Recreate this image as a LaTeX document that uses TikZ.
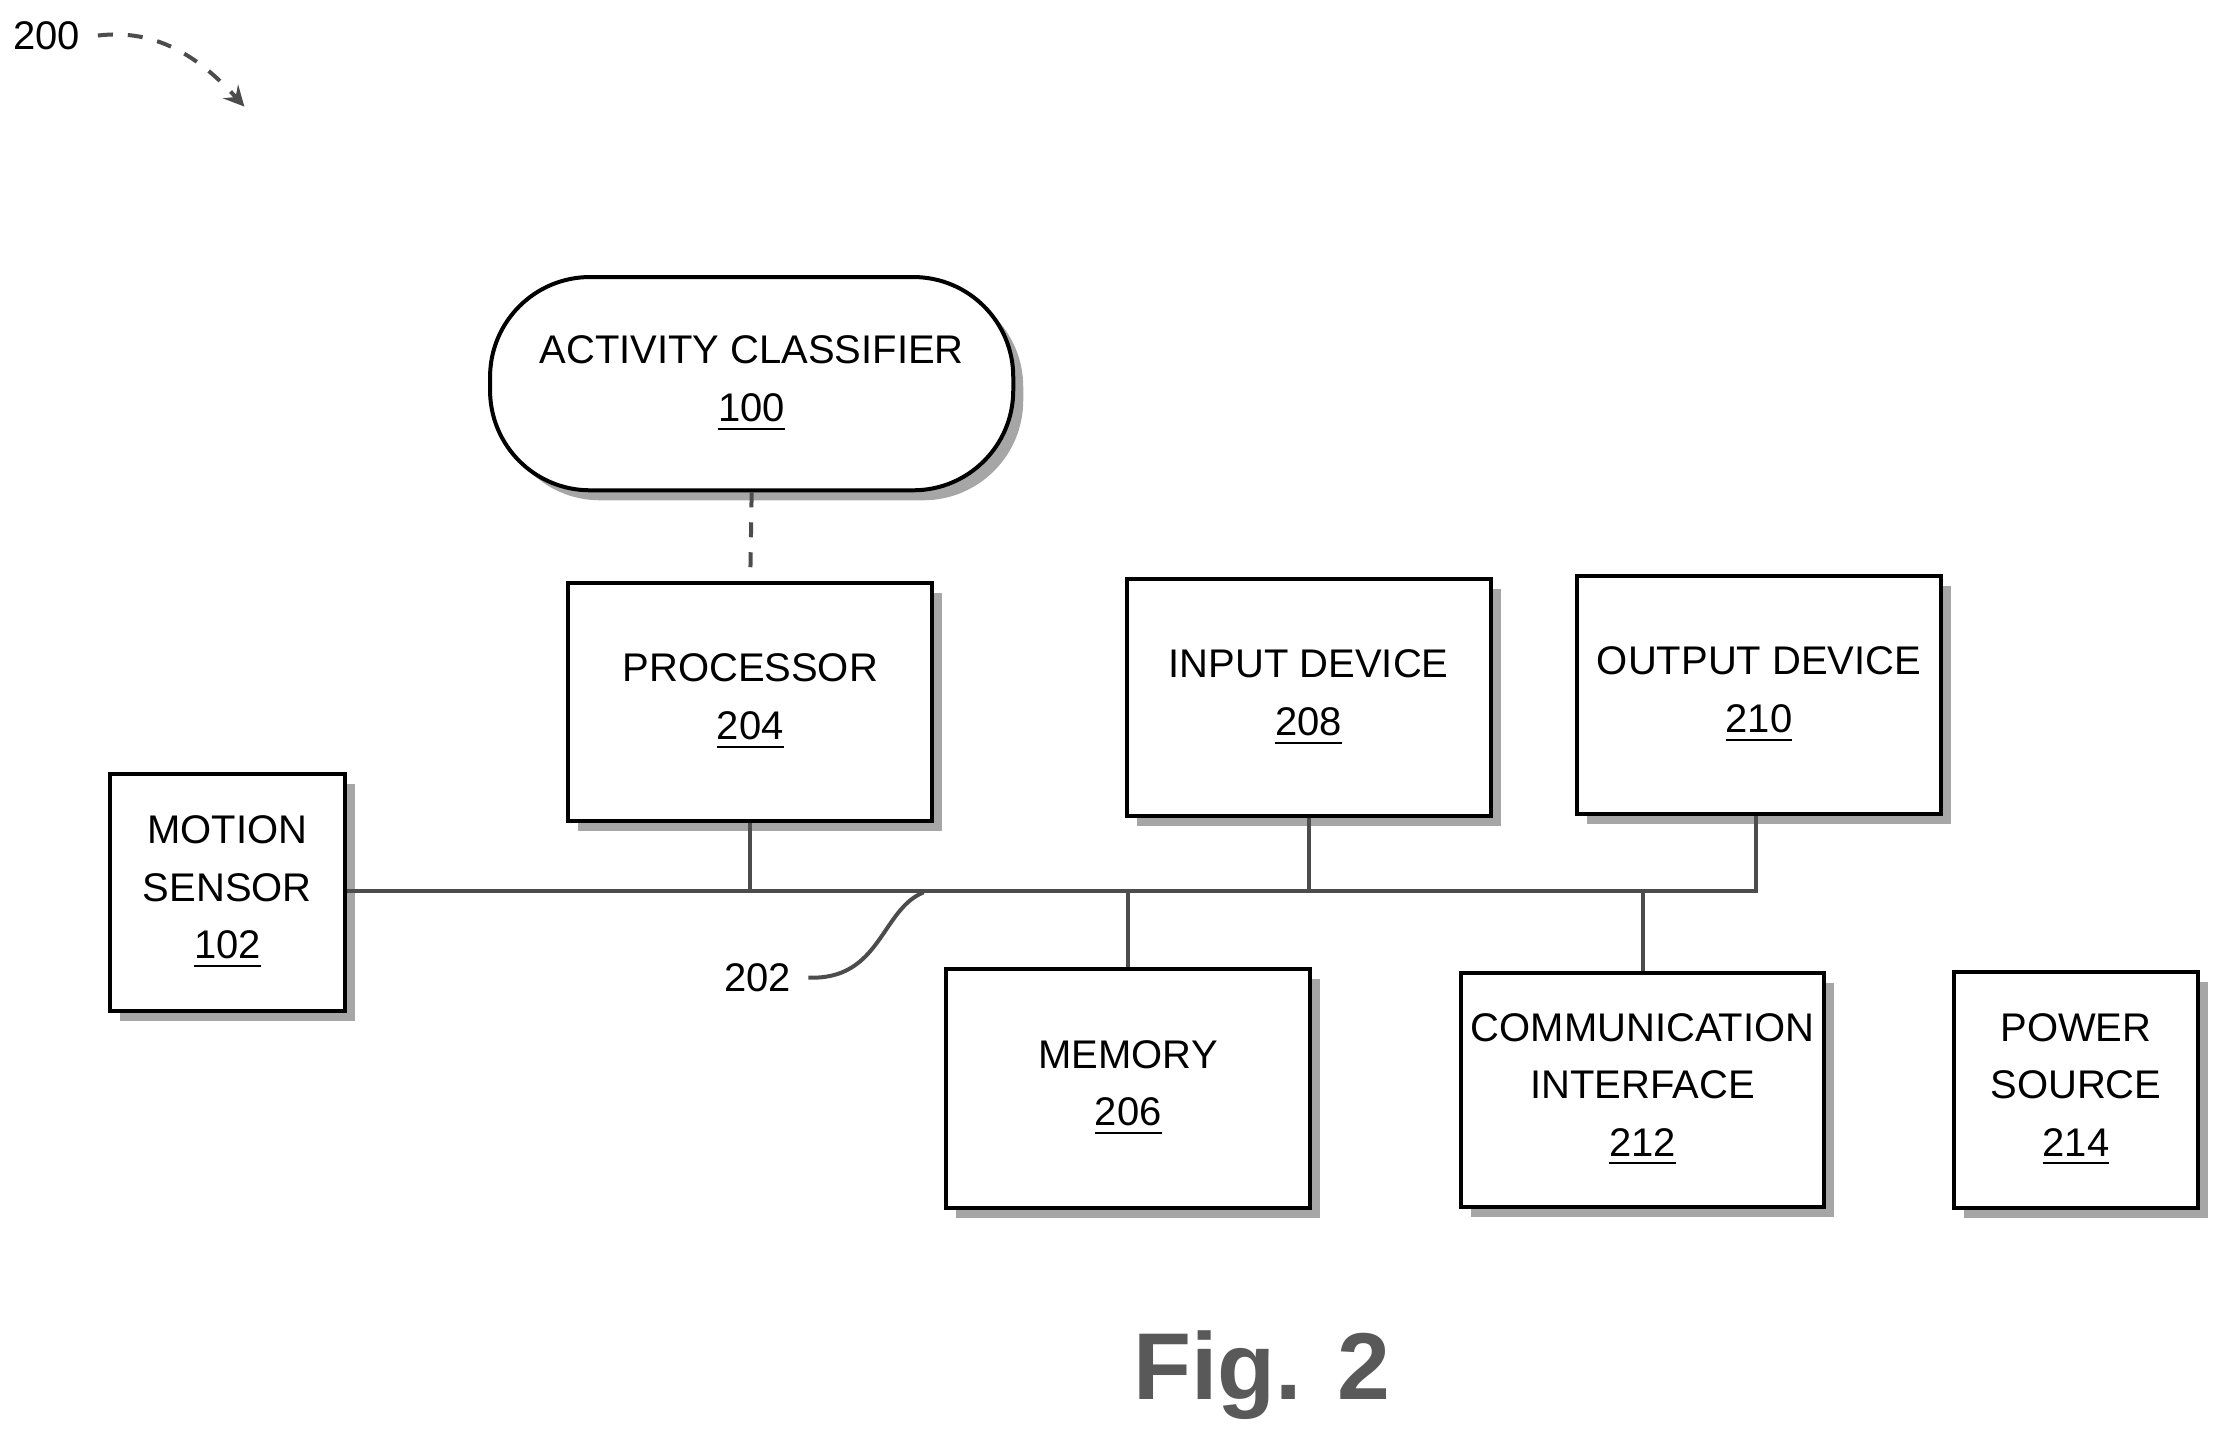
\documentclass[tikz,border=0pt]{standalone}
\usepackage{fontspec}
\setmainfont{Liberation Sans}
\usetikzlibrary{shadows}
\begin{document}
\begin{tikzpicture}[x=0.01cm,y=-0.01cm,
  blk/.style={draw, thick, fill=white, align=center, inner sep=1pt, font=\fontsize{8}{11.5}\selectfont,
    drop shadow={shadow xshift=2pt, shadow yshift=-2pt, fill=gray!70, opacity=1}},
  line/.style={thick, gray!60!black}]

  \useasboundingbox (0,0) rectangle (1568,1020);

  \node[blk, rounded corners=20pt, minimum width=3.68cm, minimum height=1.5cm] (AC) at (529,270) {ACTIVITY CLASSIFIER\\\underline{100}};
  \node[blk, minimum width=2.56cm, minimum height=1.67cm] (P) at (528,494) {PROCESSOR\\\underline{204}};
  \node[blk, minimum width=2.56cm, minimum height=1.67cm] (I) at (921,491) {INPUT DEVICE\\\underline{208}};
  \node[blk, minimum width=2.56cm, minimum height=1.67cm] (O) at (1238,489) {OUTPUT DEVICE\\\underline{210}};
  \node[blk, minimum width=1.65cm, minimum height=1.67cm] (MS) at (160,628) {MOTION\\SENSOR\\\underline{102}};
  \node[blk, minimum width=2.56cm, minimum height=1.68cm] (M) at (794,766) {MEMORY\\\underline{206}};
  \node[blk, minimum width=2.55cm, minimum height=1.65cm] (C) at (1156,767) {COMMUNICATION\\INTERFACE\\\underline{212}};
  \node[blk, minimum width=1.71cm, minimum height=1.66cm] (PS) at (1461,767) {POWER\\SOURCE\\\underline{214}};

  % bus 202
  \coordinate (busE) at (1236,627);
  \draw[line] (MS.east |- busE) -- (busE) -- (O.south -| busE);
  \draw[line] (P.south) -- (P.south |- busE);
  \draw[line] (I.south) -- (I.south |- busE);
  \draw[line] (M.north) -- (M.north |- busE);
  \draw[line] (C.north) -- (C.north |- busE);
  \draw[line, dashed] (AC.south) -- (P.north);

  % labels
  \node[font=\fontsize{8}{10}\selectfont] (l202) at (533,688) {202};
  \coordinate (t202) at (650,628);
  \draw[line] (l202.east) .. controls (620,690) and (620,640) .. (t202);
  \node[font=\fontsize{8}{10}\selectfont] (l200) at (33,25) {200};
  \coordinate (t200) at (172,75);
  \draw[line, -stealth, dashed] (l200.east) .. controls (110,20) and (140,40) .. (t200);

  \node[font=\bfseries\fontsize{19}{22}\selectfont, text=gray!70!black] (fig) at (888,968) {Fig. 2};
\end{tikzpicture}
\end{document}
